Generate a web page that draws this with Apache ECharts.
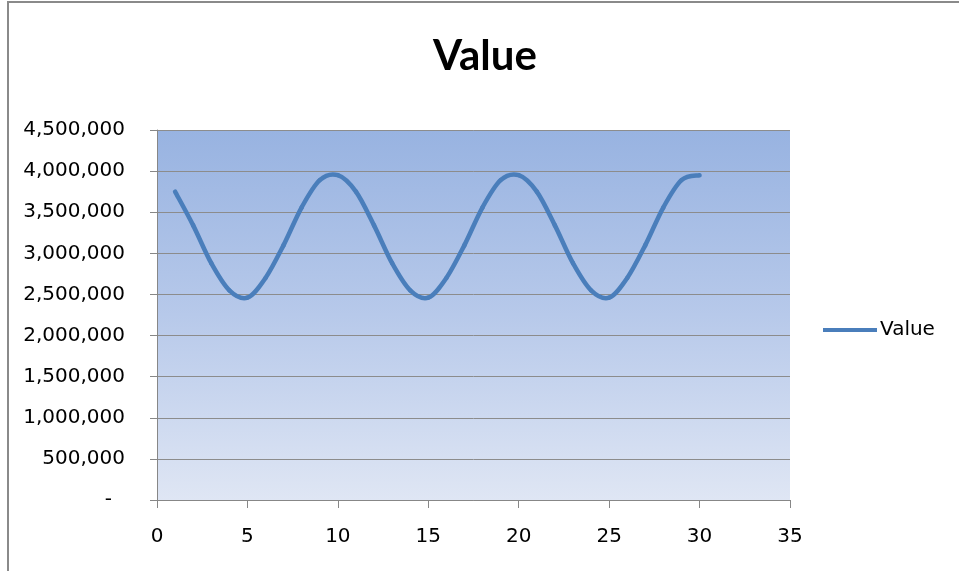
<!DOCTYPE html>
<html>
<head>
<meta charset="utf-8">
<title>Value</title>
<script src="https://cdn.jsdelivr.net/npm/echarts@6/dist/echarts.min.js"></script>
<style>
  html, body { margin: 0; padding: 0; background: #ffffff; }
  #chart { width: 959px; height: 571px; }
</style>
</head>
<body>
<div id="chart"></div>
<script>
// Period index (x) and measured value (y)
const xValues = [1, 2, 3, 4, 5, 6, 7, 8, 9, 10,
                 11, 12, 13, 14, 15, 16, 17, 18, 19, 20,
                 21, 22, 23, 24, 25, 26, 27, 28, 29, 30];
const yValues = [3750000, 3340000, 2880000, 2550000, 2460000, 2700000, 3100000, 3560000, 3890000, 3950000,
                 3750000, 3340000, 2880000, 2550000, 2460000, 2700000, 3100000, 3560000, 3890000, 3950000,
                 3750000, 3340000, 2880000, 2550000, 2460000, 2700000, 3100000, 3560000, 3890000, 3950000];
const seriesName = 'Value';
const chartTitle = 'Value';

const points = xValues.map((x, i) => [x, yValues[i]]);

const labelFont = 'DejaVu Sans';
const axisGrey = '#878787';
const lineBlue = '#4a7ebb';

// Smoothed scatter line: each item draws the cubic segment from its point to the next,
// with Catmull-Rom style control points taken from the neighbouring points.
function renderSegment(params, api) {
  const i = params.dataIndex;
  const n = points.length;
  if (i >= n - 1) return null;
  const p = (k) => api.coord(points[Math.max(0, Math.min(n - 1, k))]);
  const p0 = p(i - 1), p1 = p(i), p2 = p(i + 1), p3 = p(i + 2);
  const t = 1 / 6;
  return {
    type: 'bezierCurve',
    shape: {
      x1: p1[0], y1: p1[1],
      x2: p2[0], y2: p2[1],
      cpx1: p1[0] + (p2[0] - p0[0]) * t,
      cpy1: p1[1] + (p2[1] - p0[1]) * t,
      cpx2: p2[0] - (p3[0] - p1[0]) * t,
      cpy2: p2[1] - (p3[1] - p1[1]) * t
    },
    style: { fill: null, stroke: lineBlue, lineWidth: 4.5, lineCap: 'round', lineJoin: 'round' },
    silent: true
  };
}

const chart = echarts.init(document.getElementById('chart'), null, { renderer: 'canvas' });

chart.setOption({
  animation: false,
  backgroundColor: '#ffffff',
  graphic: [{
    type: 'rect',
    shape: { x: 8, y: 2, width: 1000, height: 620 },
    style: { fill: 'none', stroke: '#8a8a8a', lineWidth: 2 },
    silent: true,
    z: -1
  }],
  title: {
    text: chartTitle,
    left: 433,
    top: 35,
    padding: 0,
    textStyle: { fontFamily: 'Lato', fontWeight: 'bold', fontSize: 42, color: '#000000' }
  },
  legend: {
    left: 823,
    top: 320,
    padding: 0,
    icon: 'rect',
    itemWidth: 54,
    itemHeight: 4,
    textStyle: { fontFamily: labelFont, fontSize: 20, color: '#000000', padding: [0, 0, 0, -2] },
    data: [seriesName]
  },
  grid: {
    left: 157,
    right: 169,
    top: 130,
    bottom: 71,
    show: true,
    borderWidth: 0,
    backgroundColor: new echarts.graphic.LinearGradient(0, 0, 0, 1, [
      { offset: 0, color: '#98b3e1' },
      { offset: 0.5, color: '#b7c9ea' },
      { offset: 1, color: '#dfe6f4' }
    ])
  },
  xAxis: {
    type: 'value',
    min: 0,
    max: 35,
    interval: 5,
    axisLine: { show: true, onZero: false, lineStyle: { color: axisGrey, width: 1 } },
    axisTick: { show: true, length: 8, lineStyle: { color: axisGrey } },
    splitLine: { show: false },
    axisLabel: { margin: 27, fontFamily: labelFont, fontSize: 20, color: '#000000' }
  },
  yAxis: {
    type: 'value',
    min: 0,
    max: 4500000,
    interval: 500000,
    axisLine: { show: true, lineStyle: { color: axisGrey, width: 1 } },
    axisTick: { show: true, length: 7, lineStyle: { color: axisGrey } },
    splitLine: { show: true, lineStyle: { color: '#8c8c8c', width: 1 } },
    axisLabel: {
      margin: 32,
      fontFamily: labelFont,
      fontSize: 20,
      color: '#000000',
      formatter: function (v) {
        if (v === 0) return '{dash|-}';
        return v.toLocaleString('en-US');
      },
      rich: {
        dash: { fontFamily: labelFont, fontSize: 20, color: '#000000', padding: [0, 13, 0, 0] }
      }
    }
  },
  series: [{
    name: seriesName,
    type: 'custom',
    coordinateSystem: 'cartesian2d',
    data: points,
    encode: { x: 0, y: 1 },
    clip: false,
    itemStyle: { color: lineBlue },
    renderItem: renderSegment
  }]
});
</script>
</body>
</html>
